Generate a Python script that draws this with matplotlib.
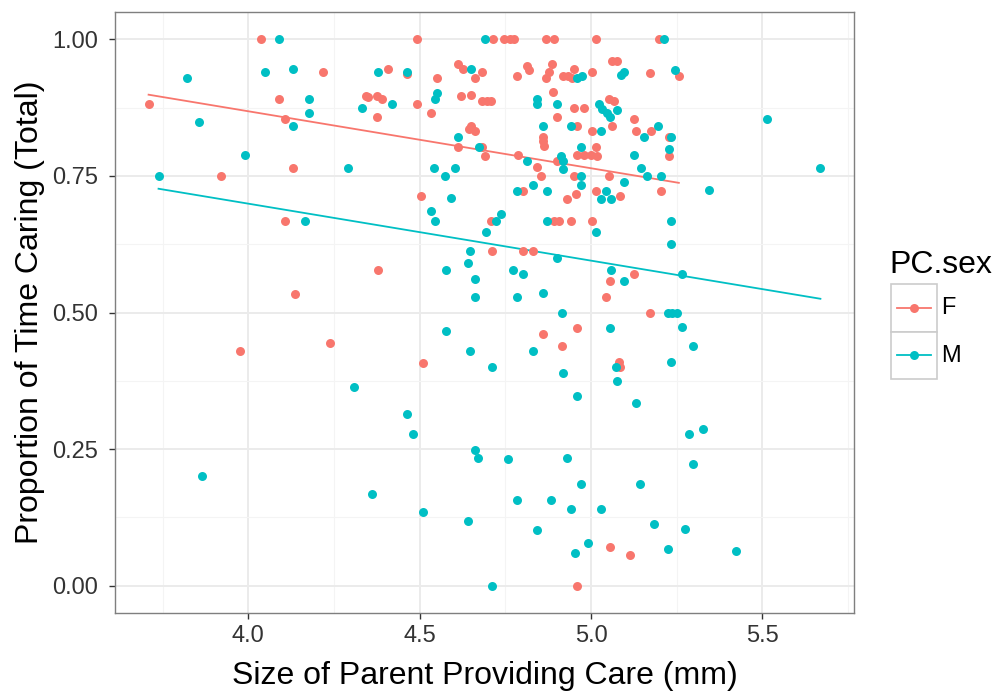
import matplotlib
matplotlib.use("Agg")
import matplotlib.pyplot as plt
from matplotlib.patches import Rectangle
from matplotlib.ticker import MultipleLocator
import numpy as np

# values
f_size = [3.709, 4.038, 4.218, 4.09, 4.108, 4.131, 3.919, 4.108, 4.137, 3.977,
          4.238, 4.343, 4.491, 4.715, 4.747, 4.762, 4.776, 4.869, 4.892, 5.015,
          4.407, 4.462, 4.613, 4.625, 4.66, 4.683, 4.55, 4.785, 4.814, 4.82,
          4.887, 4.878, 4.869, 4.919, 4.933, 4.951, 4.945, 5.003, 5.061, 4.349,
          4.375, 4.39, 4.375, 4.491, 4.532, 4.619, 4.651, 4.683, 4.695, 4.709,
          4.651, 4.645, 4.66, 4.613, 4.683, 4.689, 4.788, 4.843, 4.855, 4.89,
          4.901, 4.86, 4.86, 4.863, 4.951, 4.98, 4.959, 5.003, 5.061, 4.959,
          4.98, 5.0, 5.015, 5.017, 4.901, 4.951, 5.052, 4.802, 4.503, 4.93,
          4.956, 5.015, 5.198, 5.076, 5.172, 5.256, 5.067, 5.125, 5.131, 5.174,
          5.227, 5.227, 5.084, 5.203, 5.052, 4.709, 4.892, 4.907, 4.942, 5.003,
          4.712, 4.802, 4.831, 4.378, 5.055, 5.044, 4.959, 4.86, 4.916, 4.509,
          5.125, 5.172, 5.081, 5.084, 5.055, 4.959, 5.113]
f_prop = [0.881, 1.0, 0.941, 0.89, 0.855, 0.764, 0.749, 0.667, 0.533, 0.43,
          0.445, 0.896, 1.0, 1.0, 1.0, 1.0, 1.0, 1.0, 1.0, 1.0,
          0.945, 0.936, 0.954, 0.945, 0.93, 0.941, 0.93, 0.932, 0.951, 0.943,
          0.954, 0.941, 0.93, 0.932, 0.932, 0.945, 0.93, 0.941, 0.96, 0.894,
          0.896, 0.89, 0.857, 0.881, 0.866, 0.896, 0.899, 0.888, 0.888, 0.888,
          0.841, 0.835, 0.833, 0.802, 0.802, 0.786, 0.789, 0.766, 0.749, 0.903,
          0.857, 0.822, 0.813, 0.804, 0.874, 0.874, 0.841, 0.833, 0.841, 0.789,
          0.789, 0.789, 0.802, 0.786, 0.777, 0.749, 0.749, 0.722, 0.714, 0.707,
          0.716, 0.722, 1.0, 0.96, 0.938, 0.932, 0.888, 0.855, 0.833, 0.833,
          0.822, 0.786, 0.714, 0.722, 0.89, 0.667, 0.667, 0.667, 0.667, 0.667,
          0.612, 0.612, 0.612, 0.577, 0.557, 0.529, 0.471, 0.46, 0.438, 0.408,
          0.571, 0.5, 0.41, 0.401, 0.071, 0.0, 0.057]

m_size = [4.09, 3.82, 4.049, 4.131, 4.177, 4.177, 4.131, 3.855, 3.991, 4.291,
          3.738, 4.331, 4.166, 4.308, 3.866, 4.689, 4.378, 4.462, 4.651, 4.959,
          4.974, 4.419, 4.55, 4.544, 4.613, 4.674, 4.814, 4.843, 4.843, 4.901,
          4.86, 4.942, 5.029, 5.023, 5.032, 5.047, 5.055, 4.971, 4.913, 4.919,
          4.919, 4.971, 4.971, 4.785, 4.831, 4.872, 4.59, 5.029, 5.044, 5.058,
          4.541, 4.573, 4.602, 5.212, 5.087, 5.096, 5.244, 5.076, 5.195, 5.154,
          5.233, 5.227, 5.125, 5.145, 5.163, 5.203, 5.096, 5.343, 5.512, 5.669,
          4.532, 4.544, 4.724, 4.738, 4.692, 4.872, 5.015, 4.648, 4.901, 4.642,
          4.578, 4.773, 4.802, 4.66, 4.66, 4.785, 4.86, 5.058, 4.916, 4.578,
          4.648, 4.831, 4.712, 4.919, 4.959, 5.055, 5.073, 5.076, 5.233, 5.233,
          5.096, 5.265, 5.224, 5.235, 5.25, 5.265, 5.297, 5.233, 5.131, 4.462,
          4.48, 4.66, 4.671, 4.759, 4.93, 4.971, 4.36, 4.785, 4.884, 4.942,
          5.029, 4.509, 4.642, 4.843, 4.991, 4.953, 4.712, 5.285, 5.326, 5.297,
          5.142, 5.183, 5.273, 5.224, 5.424]
m_prop = [1.0, 0.929, 0.941, 0.945, 0.89, 0.866, 0.841, 0.848, 0.789, 0.764,
          0.749, 0.874, 0.667, 0.364, 0.2, 1.0, 0.941, 0.941, 0.945, 0.93,
          0.932, 0.881, 0.901, 0.89, 0.822, 0.802, 0.777, 0.89, 0.881, 0.881,
          0.841, 0.841, 0.833, 0.881, 0.872, 0.866, 0.857, 0.802, 0.786, 0.777,
          0.762, 0.749, 0.734, 0.722, 0.734, 0.722, 0.709, 0.707, 0.722, 0.707,
          0.764, 0.749, 0.764, 1.0, 0.934, 0.941, 0.943, 0.87, 0.841, 0.822,
          0.822, 0.8, 0.789, 0.764, 0.749, 0.749, 0.738, 0.725, 0.855, 0.764,
          0.685, 0.667, 0.667, 0.681, 0.648, 0.667, 0.648, 0.612, 0.6, 0.59,
          0.577, 0.577, 0.571, 0.562, 0.529, 0.529, 0.535, 0.577, 0.5, 0.467,
          0.43, 0.43, 0.401, 0.39, 0.348, 0.471, 0.401, 0.374, 0.667, 0.626,
          0.557, 0.571, 0.5, 0.5, 0.5, 0.474, 0.438, 0.41, 0.335, 0.315,
          0.278, 0.249, 0.234, 0.231, 0.234, 0.187, 0.167, 0.156, 0.156, 0.141,
          0.141, 0.134, 0.119, 0.101, 0.079, 0.06, 0.0, 0.278, 0.286, 0.223,
          0.187, 0.112, 0.104, 0.068, 0.064]

# linear fits as drawn in the reference (intercept, slope)
f_fit = (1.2855, -0.1043)
m_fit = (1.1164, -0.1043)

groups = ["F", "M"]
colors = {"F": "#F8766D", "M": "#00BFC4"}
series = {"F": (f_size, f_prop, f_fit), "M": (m_size, m_prop, m_fit)}

plt.rcParams["font.family"] = ["Liberation Sans", "DejaVu Sans"]

fig = plt.figure(figsize=(9.97, 6.97), dpi=100)
ax = fig.add_axes([115 / 997, 1 - 613 / 697, 739 / 997, 601 / 697])

for g in groups:
    xs, ys, (icpt, slope) = series[g]
    xs, ys = np.array(xs), np.array(ys)
    ax.scatter(xs, ys, s=42, color=colors[g], linewidths=0, zorder=3)
    xl = np.array([xs.min(), xs.max()])
    ax.plot(xl, icpt + slope * xl, color=colors[g], lw=1.3, zorder=2)

allx = np.array(f_size + m_size)
pad = 0.05 * (allx.max() - allx.min())
ax.set_xlim(allx.min() - pad, allx.max() + pad)
ax.set_ylim(-0.05, 1.05)

ax.xaxis.set_minor_locator(MultipleLocator(0.25))
ax.yaxis.set_minor_locator(MultipleLocator(0.125))
ax.set_xticks([4.0, 4.5, 5.0, 5.5])
ax.set_xticklabels(["4.0", "4.5", "5.0", "5.5"])
ax.set_yticks([0, 0.25, 0.5, 0.75, 1.0])
ax.set_yticklabels(["0.00", "0.25", "0.50", "0.75", "1.00"])
ax.grid(which="major", color="#EBEBEB", lw=1.4, zorder=0)
ax.grid(which="minor", color="#F4F4F4", lw=0.8, zorder=0)
ax.set_axisbelow(True)
ax.tick_params(which="major", length=4, width=1, color="#333333",
               labelsize=17, labelcolor="#333333")
ax.tick_params(axis="x", which="major", pad=5)
ax.tick_params(axis="y", which="major", pad=8)
ax.tick_params(which="minor", length=0)
for sp in ax.spines.values():
    sp.set_color("#7F7F7F")
    sp.set_linewidth(1.0)

ax.set_xlabel("Size of Parent Providing Care (mm)", fontsize=23, labelpad=10)
ax.set_ylabel("Proportion of Time Caring (Total)", fontsize=23, labelpad=5)

# legend drawn by hand, ggplot style keys
lg = fig.add_axes([891 / 997, 1 - 379 / 697, 46 / 997, 95 / 697])
lg.set_xlim(0, 1)
lg.set_ylim(0, 2)
lg.axis("off")
for i, g in enumerate(groups):
    y0 = 1 - i
    lg.add_patch(Rectangle((0, y0), 1, 1, facecolor="white",
                           edgecolor="#CCCCCC", lw=1.2, clip_on=False))
    lg.plot([0.12, 0.88], [y0 + 0.5, y0 + 0.5], color=colors[g], lw=1.3)
    lg.scatter([0.5], [y0 + 0.5], s=42, color=colors[g], linewidths=0, zorder=3)
    fig.text(941 / 997, 1 - (308 + 48 * i) / 697, g, fontsize=17,
             ha="left", va="center")
fig.text(889 / 997, 1 - 265 / 697, "PC.sex", fontsize=23, ha="left", va="center")

fig.savefig("out.png", dpi=100)
